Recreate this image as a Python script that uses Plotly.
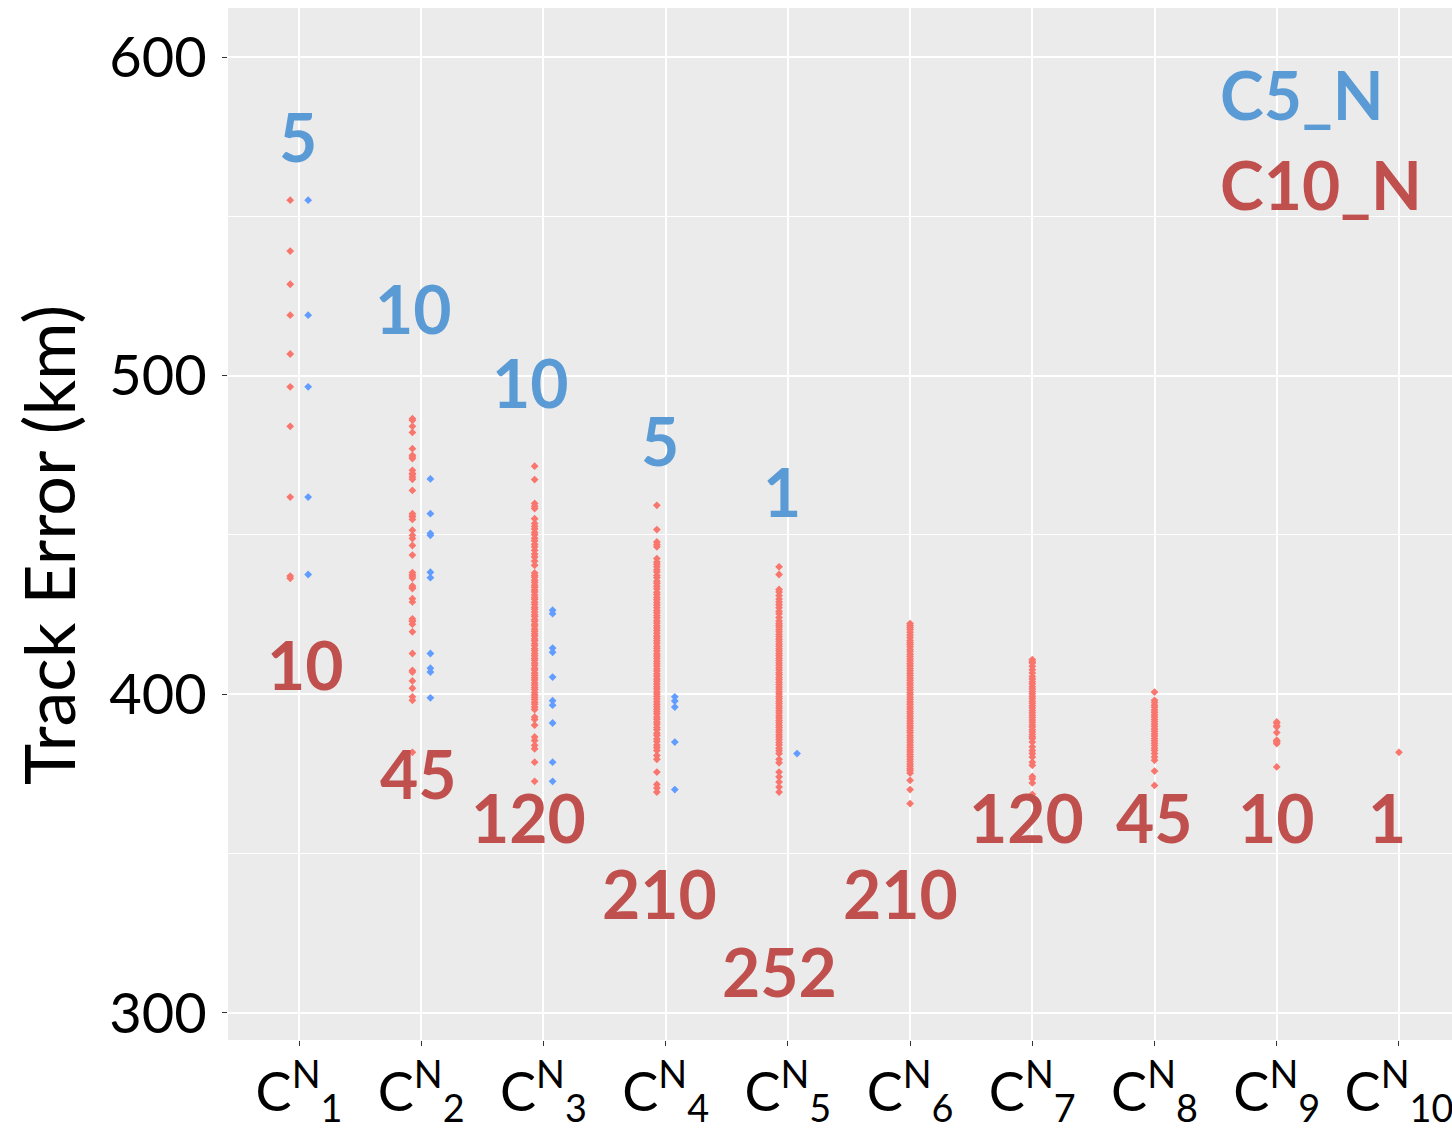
import plotly.graph_objects as go

categories = [1, 2, 3, 4, 5, 6, 7, 8, 9, 10]
tick_labels = ["C<sup>N</sup><sub>%d</sub>" % k for k in categories]

# C10_N track errors (km) per category
c10_cat1 = [555.1, 539.1, 528.7, 519.0, 506.8, 496.5, 484.1, 461.9, 437.1, 436.4]
c10_cat2 = [486.5, 486.0, 484.1, 482.2, 477.1, 475.0, 474.5, 474.0, 470.3, 469.3,
            469.0, 468.2, 467.5, 464.0, 456.7, 456.0, 455.7, 454.9, 451.5, 449.9,
            448.9, 446.7, 443.7, 438.2, 437.5, 437.1, 436.5, 434.0, 433.5, 433.2,
            430.0, 429.0, 423.7, 423.0, 422.9, 422.0, 419.6, 412.8, 407.5, 407.0,
            404.2, 401.9, 399.2, 398.1, 381.8]
c10_cat3 = [471.6, 467.4, 459.9, 459.0, 458.3, 455.1,
            453.6, 452.7, 451.9, 450.8, 450.1, 449.0, 448.2, 447.1, 446.3, 445.2,
            444.0, 443.1, 441.8, 440.5,
            438.1, 437.3, 436.7, 435.8, 435.1, 434.2, 433.6, 432.7, 432.1, 431.2,
            430.4, 429.8, 428.9, 428.2, 427.3, 426.7, 425.8, 425.0, 424.4, 423.5,
            422.9, 422.0, 421.4, 420.5, 419.8, 419.0, 418.3, 417.4, 416.8, 415.9,
            415.2, 414.3, 413.7, 412.8, 412.1, 411.3, 410.7, 409.8, 409.1, 408.2,
            407.6, 406.7, 406.0, 405.2, 404.5, 403.6, 402.9, 402.1, 401.5, 400.6,
            399.8, 399.1, 398.4, 397.5, 396.9, 396.0, 395.2,
            392.9, 392.1, 390.3, 386.6, 385.5, 384.0, 382.9, 378.7, 372.7]
c10_cat4 = [459.3, 451.7, 447.8, 447.0, 446.3, 442.6,
            441.5, 440.8, 440.0, 439.1, 438.4, 437.3, 436.6, 435.5, 434.8, 433.9,
            433.1, 432.0, 431.3, 430.4, 429.7, 428.8, 428.0, 427.2, 426.3, 425.6,
            424.7, 424.0, 423.1, 422.4, 421.5, 420.8, 420.0, 419.2, 418.3, 417.6,
            416.8, 416.0, 415.1, 414.4, 413.6, 412.7, 412.0, 411.2, 410.4, 409.6,
            408.9, 408.0, 407.3, 406.4, 405.7, 404.8, 404.1, 403.2, 402.4, 401.7,
            400.8, 400.1, 399.3, 398.5, 397.7, 396.9, 396.1, 395.3, 394.5, 393.8,
            392.9, 392.2, 391.3, 390.6, 389.6, 388.9, 387.8, 387.1, 386.0, 385.2,
            384.1, 383.3, 382.4,
            380.8, 379.6, 375.6, 371.7, 370.6, 369.3]
c10_cat5 = [440.0, 437.6,
            432.9, 432.1, 431.0, 429.9, 429.0, 428.1, 427.2, 426.1, 425.3, 424.1,
            423.0, 422.2,
            421.7, 421.1, 420.3, 419.6, 418.8, 418.1, 417.3, 416.6, 415.8, 415.1,
            414.3, 413.6, 412.8, 412.1, 411.3, 410.6, 409.8, 409.1, 408.3, 407.6,
            406.8, 406.1, 405.3, 404.6, 403.8, 403.1, 402.3, 401.6, 400.8, 400.1,
            399.3, 398.6, 397.8, 397.1, 396.3, 395.6, 394.8, 394.1, 393.3, 392.6,
            391.8, 391.1, 390.3, 389.6, 388.8, 388.1, 387.3, 386.6,
            385.8, 384.9, 384.1, 383.1, 382.3, 381.4, 379.6, 378.5,
            375.6, 374.1, 372.5, 370.9, 369.3]
c10_cat6 = [422.2, 421.6, 421.0, 420.3, 419.5, 418.6, 417.8, 416.9, 416.2,
            415.6, 414.9, 414.1, 413.4, 412.6, 411.9, 411.1, 410.4, 409.6, 408.9,
            408.1, 407.4, 406.6, 405.9, 405.1, 404.4, 403.6, 402.9, 402.1, 401.4,
            400.6, 399.9, 399.1, 398.4, 397.6, 396.9, 396.1, 395.4, 394.6, 393.9,
            393.1, 392.4, 391.6, 390.9, 390.1, 389.4, 388.6, 387.9, 387.1, 386.4,
            385.6, 384.9, 384.1, 383.4, 382.6, 381.9, 381.1, 380.4, 379.6, 378.9,
            378.1, 377.4, 376.6, 376.1,
            375.3, 373.0, 370.1, 365.7]
c10_cat7 = [410.9, 410.3, 409.8, 408.8, 407.7, 406.7, 405.6, 404.8,
            403.9, 403.2, 402.4, 401.7, 400.9, 400.2, 399.4, 398.7, 397.9, 397.2,
            396.4, 395.7, 394.9, 394.2, 393.4, 392.7, 391.9, 391.2, 390.4, 389.7,
            388.9, 388.2, 387.4, 386.7, 386.1,
            385.0, 383.5, 382.4, 381.4, 380.3, 378.7, 377.7, 374.2, 373.5, 372.2, 368.6]
c10_cat8 = [400.7, 398.1, 397.4, 396.6, 395.9, 395.1, 394.4, 393.6, 392.9, 392.1,
            391.4, 390.6, 389.9, 389.1, 388.4, 387.6, 386.9, 386.1, 385.4, 384.6,
            383.9, 383.1, 382.4, 381.4, 380.3, 379.3, 375.9, 371.4]
c10_cat9 = [391.3, 391.0, 390.1, 389.8, 388.0, 385.6, 385.3, 385.0, 384.5, 377.2]
c10_cat10 = [381.8]

# C5_N track errors (km) per category
c5_cat1 = [555.1, 519.0, 496.5, 461.9, 437.6]
c5_cat2 = [467.6, 456.7, 450.5, 449.9, 438.3, 436.6, 412.8, 408.2, 407.0, 398.9]
c5_cat3 = [426.4, 425.3, 414.5, 413.2, 405.4, 398.0, 396.6, 391.0, 378.7, 372.7]
c5_cat4 = [399.2, 397.9, 396.0, 385.0, 370.1]
c5_cat5 = [381.4]

c10_values = [c10_cat1, c10_cat2, c10_cat3, c10_cat4, c10_cat5,
              c10_cat6, c10_cat7, c10_cat8, c10_cat9, c10_cat10]
c5_values = [c5_cat1, c5_cat2, c5_cat3, c5_cat4, c5_cat5]

c10_count_labels = ["10", "45", "120", "210", "252", "210", "120", "45", "10", "1"]
c5_count_labels = ["5", "10", "10", "5", "1"]

# label anchor positions (category, km)
c10_label_x = [1.05, 1.98, 2.88, 3.95, 4.93, 5.92, 6.95, 8.0, 9.0, 9.9]
c10_label_y = [409.5, 375.2, 361.4, 337.6, 313.1, 337.6, 361.4, 361.4, 361.4, 361.4]
c5_label_x = [0.99, 1.94, 2.89, 3.95, 4.95]
c5_label_y = [575.2, 521.2, 498.0, 479.8, 463.5]

RED_PT = "#F8766D"
BLUE_PT = "#619CFF"
RED_TXT = "#C0504D"
BLUE_TXT = "#5B9BD5"
FONT = "Lato"

fig = go.Figure()

rx, ry = [], []
for cat, vals in zip(categories, c10_values):
    off = -0.072 if cat <= len(c5_values) else 0.0
    rx += [cat + off] * len(vals)
    ry += vals
bx, by = [], []
for cat, vals in zip(categories, c5_values):
    bx += [cat + 0.075] * len(vals)
    by += vals

fig.add_trace(go.Scatter(x=rx, y=ry, mode="markers", name="C10_N",
                         marker=dict(symbol="diamond", size=6, color=RED_PT, line=dict(width=0))))
fig.add_trace(go.Scatter(x=bx, y=by, mode="markers", name="C5_N",
                         marker=dict(symbol="diamond", size=6, color=BLUE_PT, line=dict(width=0))))

annotations = []
for x, y, t in zip(c5_label_x, c5_label_y, c5_count_labels):
    annotations.append(dict(x=x, y=y, xref="x", yref="y", text="<b>%s</b>" % t, showarrow=False,
                            xanchor="center", yanchor="middle",
                            font=dict(family=FONT, size=66, color=BLUE_TXT)))
for x, y, t in zip(c10_label_x, c10_label_y, c10_count_labels):
    annotations.append(dict(x=x, y=y, xref="x", yref="y", text="<b>%s</b>" % t, showarrow=False,
                            xanchor="center", yanchor="middle",
                            font=dict(family=FONT, size=66, color=RED_TXT)))
annotations.append(dict(x=0.809, y=0.9157, xref="paper", yref="paper", xanchor="left",
                        yanchor="middle", text="<b>C5_N</b>", showarrow=False,
                        font=dict(family=FONT, size=66, color=BLUE_TXT)))
annotations.append(dict(x=0.809, y=0.8285, xref="paper", yref="paper", xanchor="left",
                        yanchor="middle", text="<b>C10_N</b>", showarrow=False,
                        font=dict(family=FONT, size=66, color=RED_TXT)))
annotations.append(dict(x=-0.147, y=0.4797, xref="paper", yref="paper", textangle=-90,
                        xanchor="center", yanchor="middle",
                        text="Track Error (km)", showarrow=False,
                        font=dict(family=FONT, size=70, color="black")))

fig.update_layout(
    width=1452, height=1129,
    margin=dict(l=228, r=0, t=8, b=89),
    paper_bgcolor="white", plot_bgcolor="#EBEBEB",
    showlegend=False,
    annotations=annotations,
    xaxis=dict(range=[0.419, 10.434], tickmode="array", tickvals=categories, ticktext=tick_labels,
               tickfont=dict(family=FONT, size=54, color="black"),
               showgrid=True, gridcolor="white", gridwidth=2, zeroline=False,
               ticks="outside", ticklen=5, tickcolor="#333333", automargin=False,
               ticklabeloverflow="allow", showline=False),
    yaxis=dict(range=[291.5, 615.4], tickmode="array", tickvals=[300, 400, 500, 600],
               tickfont=dict(family=FONT, size=56, color="black"),
               showgrid=True, gridcolor="white", gridwidth=2, zeroline=False,
               ticks="outside", ticklen=5, tickcolor="#333333", automargin=False,
               ticklabelstandoff=4,
               minor=dict(tickvals=[350, 450, 550], showgrid=True, gridcolor="white",
                          gridwidth=1, ticks=""),
               showline=False),
)

fig.write_html("out.html")
